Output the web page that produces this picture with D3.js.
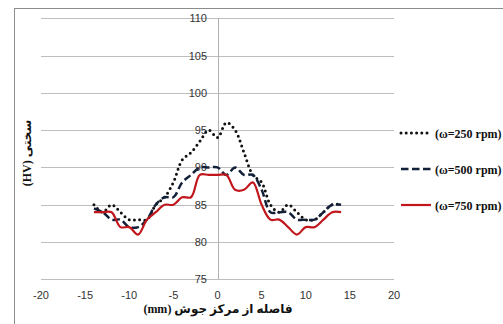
<!DOCTYPE html>
<html><head><meta charset="utf-8">
<script src="https://cdn.jsdelivr.net/npm/d3@7"></script>
<style>html,body{margin:0;padding:0;background:#fff;overflow:hidden}</style>
</head><body>
<svg id="c" width="503" height="324"></svg>
<script>
const xs = [-14,-13,-12,-11,-10,-9,-8,-7,-6,-5,-4,-3,-2,-1,0,1,2,3,4,5,6,7,8,9,10,11,12,13,14];
const s250 = [85,84,85,84,83,83,83,85,86,88,91,92,93.5,95,94,96,95,92,89,88,85,84,85,84,83,83,84,85,85];
const s500 = [84.5,84,83,83,82,82,83,85,86,86,88,89,90,90,90,89,90,89,89,87,84,84,84,83,83,83,84,85,85];
const s750 = [84,84,84,82,82,81,83,84,85,85,86,86,89,89,89,89,87,87,88,85,83,83,82,81,82,82,83,84,84];
const seriesNames = ["(ω=250 rpm)", "(ω=500 rpm)", "(ω=750 rpm)"];
const xTicks = [-20,-15,-10,-5,0,5,10,15,20];
const yTicks = [75,80,85,90,95,100,105,110];
const xTitle = "فاصله از مرکز جوش (mm)";
const yTitle = "سختی (HV)";

const svg = d3.select("#c");
// frame
svg.append("rect").attr("x",14.5).attr("y",8.5).attr("width",520).attr("height",340)
  .attr("fill","none").attr("stroke","#8c8c8c").attr("stroke-width",1);

const x = d3.scaleLinear().domain([-20,20]).range([41,394]);
const y = d3.scaleLinear().domain([75,110]).range([279.3,18.3]);

// gridlines
svg.append("g").selectAll("line").data(yTicks).join("line")
  .attr("x1",x(-20)).attr("x2",x(20))
  .attr("y1",d=>Math.round(y(d))+0.5).attr("y2",d=>Math.round(y(d))+0.5)
  .attr("stroke","#bdbdbd").attr("stroke-width",1.2);
// vertical axis at 0
svg.append("line").attr("x1",Math.round(x(0))+0.5).attr("x2",Math.round(x(0))+0.5)
  .attr("y1",y(110)).attr("y2",y(75)).attr("stroke","#b0b0b0").attr("stroke-width",1);

// y tick labels
svg.append("g").selectAll("text").data(yTicks).join("text")
  .attr("x",x(0)-10.5).attr("y",d=>y(d)+4)
  .attr("text-anchor","end").attr("font-family","Liberation Sans, Arial, sans-serif")
  .attr("font-size",11).attr("fill","#333").text(d=>d);
// x tick labels
svg.append("g").selectAll("text").data(xTicks).join("text")
  .attr("x",d=>x(d)).attr("y",299)
  .attr("text-anchor","middle").attr("font-family","Liberation Sans, Arial, sans-serif")
  .attr("font-size",11).attr("fill","#333").text(d=>d);

// titles
svg.append("text").attr("x",218).attr("y",313).attr("text-anchor","middle")
  .attr("direction","rtl").attr("font-family","Liberation Serif, DejaVu Sans, serif")
  .attr("font-weight","bold").attr("font-size",12).attr("fill","#111").text(xTitle);
svg.append("text").attr("transform","translate(31,153) rotate(-90)").attr("text-anchor","middle")
  .attr("direction","rtl").attr("font-family","Liberation Serif, DejaVu Sans, serif")
  .attr("font-weight","bold").attr("font-size",12).attr("fill","#111").text(yTitle);

const styles = [
  {data:s250, color:"#111111", dash:"0,5.2", cap:"round", w:3},
  {data:s500, color:"#13203a", dash:"7.5,3.5", cap:"butt", w:2.5},
  {data:s750, color:"#c0161c", dash:null, cap:"butt", w:2.2}
];
const line = d3.line().x((d,i)=>x(xs[i])).y(d=>y(d)).curve(d3.curveCatmullRom.alpha(0.5));
styles.forEach(s=>{
  svg.append("path").datum(s.data).attr("d",line).attr("fill","none")
    .attr("stroke",s.color).attr("stroke-width",s.w).attr("stroke-linecap",s.cap)
    .attr("stroke-linejoin","round").attr("stroke-dasharray",s.dash);
});

// legend
const ly = [133,169,205];
styles.forEach((s,i)=>{
  svg.append("line").attr("x1",401).attr("x2",431).attr("y1",ly[i]).attr("y2",ly[i])
    .attr("stroke",s.color).attr("stroke-width",s.w).attr("stroke-linecap",s.cap)
    .attr("stroke-dasharray",s.dash);
  svg.append("text").attr("x",435).attr("y",ly[i]+4.5)
    .attr("font-family","Liberation Serif, Times New Roman, serif").attr("font-weight","bold")
    .attr("font-size",12).attr("fill","#111").text(seriesNames[i]);
});
</script>
</body></html>
